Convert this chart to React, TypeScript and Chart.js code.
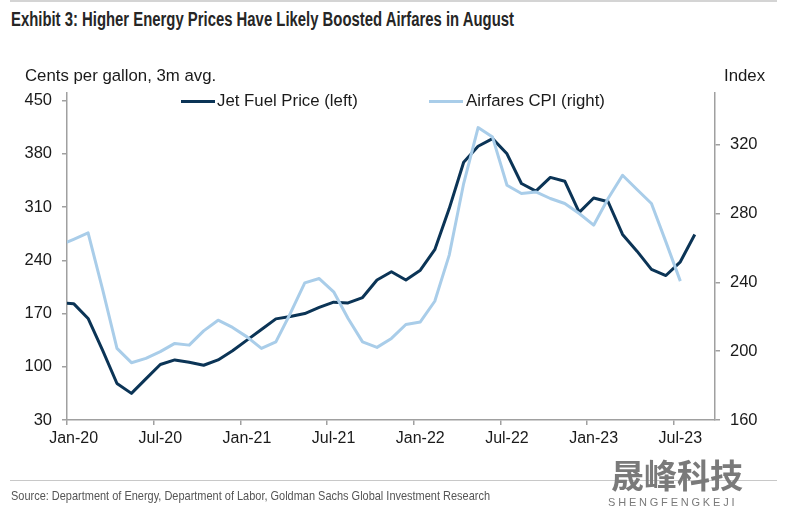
import React, { useEffect, useLayoutEffect, useRef } from "react";
import { Chart, registerables } from "chart.js";

Chart.register(...registerables);

// Monthly observations, Dec-19 .. Aug-23
const months = [
  "Dec-19",
  "Jan-20", "Feb-20", "Mar-20", "Apr-20", "May-20", "Jun-20", "Jul-20", "Aug-20", "Sep-20", "Oct-20", "Nov-20", "Dec-20",
  "Jan-21", "Feb-21", "Mar-21", "Apr-21", "May-21", "Jun-21", "Jul-21", "Aug-21", "Sep-21", "Oct-21", "Nov-21", "Dec-21",
  "Jan-22", "Feb-22", "Mar-22", "Apr-22", "May-22", "Jun-22", "Jul-22", "Aug-22", "Sep-22", "Oct-22", "Nov-22", "Dec-22",
  "Jan-23", "Feb-23", "Mar-23", "Apr-23", "May-23", "Jun-23", "Jul-23", "Aug-23",
];

// Cents per gallon, 3m avg. (left axis)
const jetFuelPrice = [
  184,
  183, 163.5, 122, 78, 65, 84, 103, 109, 106, 102, 109, 121,
  135, 149, 163, 166, 170, 178, 185, 184, 191, 214, 225, 214,
  227, 254, 308, 369, 390, 400, 380, 341, 331, 349, 344, 303,
  322, 317, 274, 252, 228, 220, 238, 274,
];

// Index (right axis)
const airfaresCPI = [
  261.5,
  265, 268.7, 236, 201.6, 193.3, 195.8, 199.7, 204.5, 203.5, 211.8, 218, 213.8,
  208.3, 201.6, 205.4, 221.9, 239.7, 242.2, 234.5, 219, 205.4, 202.2, 207.4, 215.5,
  217, 229, 255.8, 297.4, 329.9, 324.4, 296.4, 291.6, 292.5, 288.7, 285.8, 280,
  273.2, 288.7, 302.2, 293.9, 285.8, 263.5, 240.7,
];

const xTickLabels = ["Jan-20", "Jul-20", "Jan-21", "Jul-21", "Jan-22", "Jul-22", "Jan-23", "Jul-23"];
const leftTicks = [30, 100, 170, 240, 310, 380, 450];
const rightTicks = [160, 200, 240, 280, 320];

const seriesLabels = ["Jet Fuel Price (left)", "Airfares CPI (right)"];
const seriesColors = ["#0b3456", "#a9cde9"];

const FONT = "'Liberation Sans', Arial, Helvetica, sans-serif";
const AXIS = "#a0a0a0";
const TEXT = "#1a1a1a";

function FitText(props: { width: number; style: React.CSSProperties; children: React.ReactNode }) {
  const ref = useRef<HTMLDivElement | null>(null);
  useLayoutEffect(() => {
    const el = ref.current;
    if (!el) return;
    el.style.transform = "none";
    const w = el.getBoundingClientRect().width;
    if (w > 0) el.style.transform = `scaleX(${props.width / w})`;
  }, [props.width]);
  return (
    <div
      ref={ref}
      style={{
        position: "absolute",
        whiteSpace: "nowrap",
        margin: 0,
        display: "inline-block",
        transformOrigin: "0 50%",
        ...props.style,
      }}
    >
      {props.children}
    </div>
  );
}

export default function App() {
  const canvasRef = useRef<HTMLCanvasElement | null>(null);

  useEffect(() => {
    if (!canvasRef.current) return;
    const base = months.indexOf("Jan-20");
    const toXY = (arr: number[]) => arr.map((v, i) => ({ x: i - base, y: v }));
    const xStart = -0.46;

    const axisGrid = {
      display: true,
      drawOnChartArea: false,
      drawTicks: true,
      tickLength: 5,
      tickColor: AXIS,
      color: AXIS,
      lineWidth: 1.5,
    };

    const chart = new Chart(canvasRef.current, {
      type: "line",
      data: {
        datasets: [
          {
            label: seriesLabels[0],
            data: toXY(jetFuelPrice),
            borderColor: seriesColors[0],
            backgroundColor: seriesColors[0],
            borderWidth: 3,
            pointRadius: 0,
            tension: 0,
            yAxisID: "y",
            clip: 0,
            order: 1,
            borderJoinStyle: "round",
          },
          {
            label: seriesLabels[1],
            data: toXY(airfaresCPI),
            borderColor: seriesColors[1],
            backgroundColor: seriesColors[1],
            borderWidth: 3,
            pointRadius: 0,
            tension: 0,
            yAxisID: "y1",
            clip: 0,
            order: 0,
            borderJoinStyle: "round",
          },
        ],
      },
      options: {
        animation: false,
        responsive: false,
        maintainAspectRatio: false,
        layout: { padding: { top: 93, left: 0, right: 0, bottom: 0 } },
        plugins: {
          legend: { display: false },
          tooltip: { enabled: false },
          title: { display: false },
        },
        scales: {
          x: {
            type: "linear",
            position: "bottom",
            min: xStart,
            max: 44.4,
            afterBuildTicks: (scale: any) => {
              scale.ticks = xTickLabels.map((l) => ({ value: months.indexOf(l) - base + xStart }));
            },
            afterFit: (scale: any) => {
              scale.height = 87;
            },
            grid: axisGrid,
            border: { display: true, color: AXIS, width: 1.5 },
            ticks: {
              autoSkip: false,
              maxRotation: 0,
              minRotation: 0,
              padding: 4,
              labelOffset: 6.6,
              color: TEXT,
              font: { family: FONT, size: 16 },
              callback: (_v: any, i: number) => xTickLabels[i],
            },
          },
          y: {
            type: "linear",
            position: "left",
            min: 30,
            max: 460,
            afterBuildTicks: (scale: any) => {
              scale.ticks = leftTicks.map((v) => ({ value: v }));
            },
            afterFit: (scale: any) => {
              scale.width = 67;
            },
            grid: axisGrid,
            border: { display: true, color: AXIS, width: 1.5 },
            ticks: {
              padding: 10,
              color: TEXT,
              font: { family: FONT, size: 16.5 },
              callback: (v: any) => String(v),
            },
          },
          y1: {
            type: "linear",
            position: "right",
            min: 160,
            max: 350,
            afterBuildTicks: (scale: any) => {
              scale.ticks = rightTicks.map((v) => ({ value: v }));
            },
            afterFit: (scale: any) => {
              scale.width = 85;
            },
            grid: axisGrid,
            border: { display: true, color: AXIS, width: 1.5 },
            ticks: {
              padding: 10,
              color: TEXT,
              font: { family: FONT, size: 16.5 },
              callback: (v: any) => String(v),
            },
          },
        },
      },
    } as any);

    return () => chart.destroy();
  }, []);

  const abs = (style: React.CSSProperties): React.CSSProperties => ({
    position: "absolute",
    whiteSpace: "nowrap",
    margin: 0,
    ...style,
  });

  const legendPos = [
    { left: 181, lineW: 34, gap: 2 },
    { left: 429, lineW: 34, gap: 3 },
  ];

  return (
    <div
      style={{
        position: "fixed",
        left: 0,
        top: 0,
        width: 800,
        height: 507,
        background: "#ffffff",
        overflow: "hidden",
        fontFamily: FONT,
      }}
    >
      <div style={abs({ left: 10, top: 0, width: 767, height: 2, background: "#d4d4d4" })} />
      <FitText
        width={503}
        style={{
          left: 11,
          top: 8,
          fontWeight: 700,
          fontSize: 19.5,
          lineHeight: "23px",
          color: "#262626",
        }}
      >
        Exhibit 3: Higher Energy Prices Have Likely Boosted Airfares in August
      </FitText>
      <canvas
        ref={canvasRef}
        width={800}
        height={507}
        style={{ position: "absolute", left: 0, top: 0, width: 800, height: 507 }}
      />
      <div style={abs({ left: 25, top: 66, fontSize: 16.8, lineHeight: "20px", color: TEXT })}>
        Cents per gallon, 3m avg.
      </div>
      <div style={abs({ left: 724, top: 66, fontSize: 16.8, lineHeight: "20px", color: TEXT })}>Index</div>
      {seriesLabels.map((label, i) => (
        <div
          key={label}
          style={abs({
            left: legendPos[i].left,
            top: 91,
            height: 20,
            display: "flex",
            alignItems: "center",
            fontSize: 16.8,
            lineHeight: "20px",
            color: TEXT,
          })}
        >
          <span
            style={{
              display: "inline-block",
              width: legendPos[i].lineW,
              height: 3,
              background: seriesColors[i],
              marginRight: legendPos[i].gap,
            }}
          />
          <span>{label}</span>
        </div>
      ))}
      <div style={abs({ left: 10, top: 480, width: 767, height: 1, background: "#c8c8c8" })} />
      <FitText
        width={479}
        style={{
          left: 11,
          top: 488,
          fontSize: 13,
          lineHeight: "16px",
          color: "#555555",
        }}
      >
        Source: Department of Energy, Department of Labor, Goldman Sachs Global Investment Research
      </FitText>
      <div
        style={abs({
          left: 611,
          top: 457,
          fontFamily: "'Noto Sans CJK SC', sans-serif",
          fontWeight: 700,
          fontSize: 33,
          lineHeight: "35px",
          color: "#7a7a7a",
        })}
      >
        晟峰科技
      </div>
      <div
        style={abs({
          left: 608,
          top: 495,
          fontSize: 11,
          lineHeight: "14px",
          letterSpacing: 2.8,
          color: "#7a7a7a",
        })}
      >
        SHENGFENGKEJI
      </div>
    </div>
  );
}
